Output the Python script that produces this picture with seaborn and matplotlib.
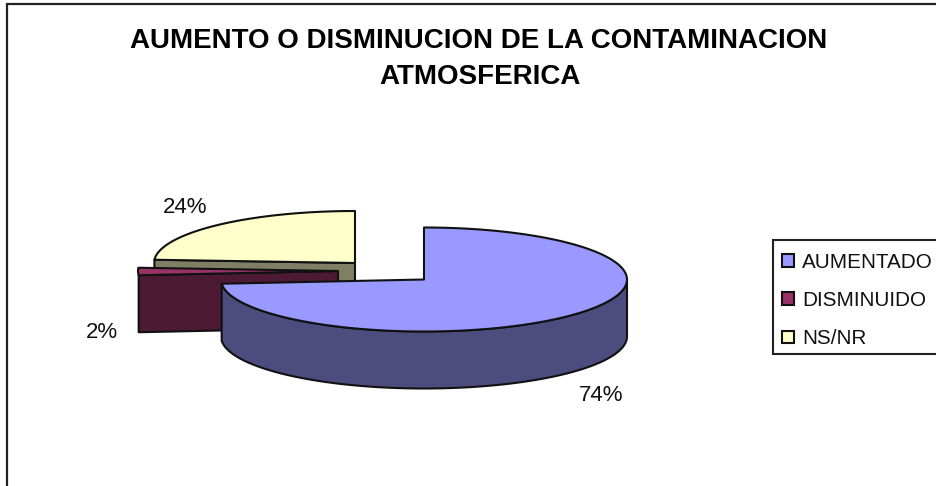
import numpy as np
import matplotlib
matplotlib.use("Agg")
import matplotlib.pyplot as plt
from matplotlib.patches import Polygon, Rectangle, Patch
import seaborn as sns

categories = ["AUMENTADO", "DISMINUIDO", "NS/NR"]
shares = [73.7, 2.3, 24.0]
top_colors = ["#9999FF", "#993366", "#FFFFCC"]
side_colors = ["#4C4C7F", "#4C1A33", "#7F7F66"]
title_lines = ["AUMENTO O DISMINUCION DE LA CONTAMINACION", "ATMOSFERICA"]

# exploded-slice geometry in pixel space
centres = [(424, 279.5), (338, 271), (355, 263)]
radii_x = [203, 200, 201]
radius_y = 52
depth = 57
label_pos = [(185, 207), (102, 332), (601, 395)]
label_order = [2, 1, 0]

sns.set_theme(style="white")
plt.rcParams["font.family"] = ["Liberation Sans", "DejaVu Sans"]

fig = plt.figure(figsize=(9.36, 4.86), dpi=100)
ax = fig.add_axes([0, 0, 1, 1])
ax.set_xlim(0, 936)
ax.set_ylim(486, 0)
ax.axis("off")

EDGE = dict(edgecolor="#111111", linewidth=1.5, joinstyle="round")

ax.add_patch(Rectangle((7, 4), 1000, 600, facecolor="white", edgecolor="#222222", linewidth=1.6))


def arc(c, rx, a0, a1):
    t = np.radians(np.linspace(a0, a1, 160))
    return np.column_stack([c[0] + rx * np.sin(t), c[1] - radius_y * np.cos(t)])


edges = np.cumsum([0] + shares) / sum(shares) * 360
drop = np.array([0, depth])
# draw from back to front: NS/NR, DISMINUIDO, AUMENTADO
for i in [2, 1, 0]:
    c, rx = centres[i], radii_x[i]
    a0, a1 = edges[i], edges[i + 1]
    pts = arc(c, rx, a0, a1)
    centre = np.array(c, float)
    if i == 0:
        wall = arc(c, rx, 90, a1)
        ax.add_patch(Polygon(np.vstack([wall, (wall + drop)[::-1]]), facecolor=side_colors[i], **EDGE))
    else:
        cut = np.array([pts[0], centre])
        ax.add_patch(Polygon(np.vstack([cut, (cut + drop)[::-1]]), facecolor=side_colors[i], **EDGE))
    ax.add_patch(Polygon(np.vstack([centre, pts]), facecolor=top_colors[i], **EDGE))

for (x, y), i in zip(label_pos, label_order):
    ax.text(x, y, f"{round(shares[i])}%", ha="center", va="center", fontsize=16, color="#111111")

ax.text(478.5, 40.5, title_lines[0], ha="center", va="center", fontsize=20, fontweight="bold", color="black")
ax.text(480, 77.5, title_lines[1], ha="center", va="center", fontsize=20, fontweight="bold", color="black")

# legend frame runs off the right of the picture, as in the original
ax.add_patch(Rectangle((773, 240), 300, 114, facecolor="white", edgecolor="#222222", linewidth=1.5, zorder=4))
handles = [Patch(facecolor=col, edgecolor="#111111", linewidth=1.5) for col in top_colors]
leg = ax.legend(handles, categories, loc="upper left", bbox_to_anchor=(773 / 936, 1 - 243.5 / 486),
                bbox_transform=fig.transFigure, borderaxespad=0, fontsize=14.9, frameon=False,
                handlelength=0.58, handleheight=0.58,
                handletextpad=0.39, labelspacing=0.93, borderpad=0.45)
leg.set_zorder(5)
for t in leg.get_texts():
    t.set_color("#111111")

fig.savefig("out.png", dpi=100, facecolor="white")
